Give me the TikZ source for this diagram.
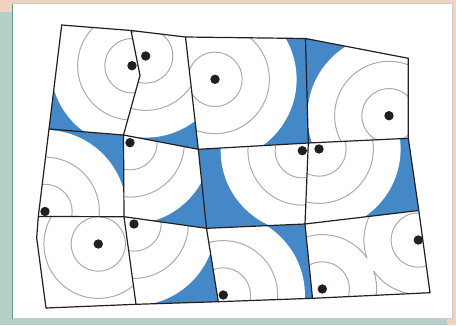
\documentclass[tikz,border=0pt]{standalone}
\usepackage{xcolor}
\definecolor{peach}{RGB}{238,212,192}
\definecolor{sage}{RGB}{181,208,200}
\definecolor{rim}{RGB}{110,150,140}
\definecolor{sea}{RGB}{69,136,199}
\definecolor{ink}{RGB}{35,31,32}

\begin{document}
\begin{tikzpicture}[x=1pt, y=-1pt,
    mesh/.style={line width=1.2pt, ink, line join=miter},
    ring/.style={line width=1pt, black!33},
    pin/.style={fill=ink}]
        \useasboundingbox (0,0) rectangle (456,325);

        % card and background
        \fill[peach] (0,0) rectangle (456,325);
        \fill[sage] (0,12) rectangle (447,325);
        \fill[white, draw=black!20] (12,3.5) rectangle (452,318.5);
        \draw[rim, line width=1.2pt] (12.3,3.5) -- (12.3,318.5);

        % mesh vertices
        \coordinate (A0) at (61.7,25);
        \coordinate (A1) at (131,30.5);
        \coordinate (A2) at (185.5,37);
        \coordinate (A3) at (305.5,38.5);
        \coordinate (A4) at (408.3,58.3);
        \coordinate (K) at (140,75.5);
        \coordinate (B0) at (49,129);
        \coordinate (B1) at (123.5,135);
        \coordinate (B2) at (198.3,149.3);
        \coordinate (B3) at (308.3,143);
        \coordinate (B4) at (408.3,138.3);
        \coordinate (C0) at (38.3,216.5);
        \coordinate (C1) at (124,216.7);
        \coordinate (C2) at (206.5,228.3);
        \coordinate (C3) at (305,224);
        \coordinate (C4) at (418.8,210.5);
        \coordinate (L) at (36.7,238);
        \coordinate (D0) at (46,308);
        \coordinate (D1) at (136,304.3);
        \coordinate (D2) at (218.3,301.7);
        \coordinate (D3) at (312.5,298.3);
        \coordinate (D4) at (430,292.7);

        % sample points
        \coordinate (d11) at (132,65.7);
        \coordinate (d12) at (145.7,56);
        \coordinate (d13) at (215,79.3);
        \coordinate (d14) at (389,115.7);
        \coordinate (d21) at (45,211.5);
        \coordinate (d22) at (130,142.7);
        \coordinate (d23) at (302.3,150.7);
        \coordinate (d24) at (319,149);
        \coordinate (d31) at (98.3,244);
        \coordinate (d32) at (134,224);
        \coordinate (d33) at (223.3,295);
        \coordinate (d34a) at (322.3,289);
        \coordinate (d34b) at (418.3,240);

        % uncovered part
        \fill[sea] (A0) -- (A1) -- (A2) -- (A3) -- (A4) -- (B4) -- (C4) -- (D4) -- (D3) -- (D2) -- (D1) -- (D0) -- (L) -- (C0) -- (B0) -- cycle;

        \begin{scope}
            \clip (A0) -- (A1) -- (K) -- (B1) -- (B0) -- cycle;
            \fill[white] (d11) circle (81.6);
            \draw[ring] (d11) circle (27.2) circle (54.4);
        \end{scope}
        \begin{scope}
            \clip (A1) -- (A2) -- (B2) -- (B1) -- (K) -- cycle;
            \fill[white] (d12) circle (81.6);
            \draw[ring] (d12) circle (27.2) circle (54.4);
        \end{scope}
        \begin{scope}
            \clip (A2) -- (A3) -- (B3) -- (B2) -- cycle;
            \fill[white] (d13) circle (81.6);
            \draw[ring] (d13) circle (27.2) circle (54.4);
        \end{scope}
        \begin{scope}
            \clip (A3) -- (A4) -- (B4) -- (B3) -- cycle;
            \fill[white] (d14) circle (81.6);
            \draw[ring] (d14) circle (27.2) circle (54.4);
        \end{scope}

        \begin{scope}
            \clip (B0) -- (B1) -- (C1) -- (C0) -- cycle;
            \fill[white] (d21) circle (81.6);
            \draw[ring] (d21) circle (27.2) circle (54.4);
        \end{scope}
        \begin{scope}
            \clip (B1) -- (B2) -- (C2) -- (C1) -- cycle;
            \fill[white] (d22) circle (81.6);
            \draw[ring] (d22) circle (27.2) circle (54.4);
        \end{scope}
        \begin{scope}
            \clip (B2) -- (B3) -- (C3) -- (C2) -- cycle;
            \fill[white] (d23) circle (81.6);
            \draw[ring] (d23) circle (27.2) circle (54.4);
        \end{scope}
        \begin{scope}
            \clip (B3) -- (B4) -- (C4) -- (C3) -- cycle;
            \fill[white] (d24) circle (81.6);
            \draw[ring] (d24) circle (27.2) circle (54.4);
        \end{scope}

        \begin{scope}
            \clip (C0) -- (C1) -- (D1) -- (D0) -- (L) -- cycle;
            \fill[white] (d31) circle (81.6);
            \draw[ring] (d31) circle (27.2) circle (54.4);
        \end{scope}
        \begin{scope}
            \clip (C1) -- (C2) -- (D2) -- (D1) -- cycle;
            \fill[white] (d32) circle (81.6);
            \draw[ring] (d32) circle (27.2) circle (54.4);
        \end{scope}
        \begin{scope}
            \clip (C2) -- (C3) -- (D3) -- (D2) -- cycle;
            \fill[white] (d33) circle (81.6);
            \draw[ring] (d33) circle (27.2) circle (54.4);
        \end{scope}
        \begin{scope}
            \clip (C3) -- (C4) -- (D4) -- (D3) -- cycle;
            \fill[white] (d34a) circle (81.6) (d34b) circle (81.6);
            \draw[ring] (d34a) circle (27.2) (d34b) circle (27.2);
            % outer rings merge where the two disks overlap
            \draw[ring] (d34a) ++(340.8:54.4) arc[start angle=340.8, end angle=685.1, radius=54.4];
            \draw[ring] (d34b) ++(160.8:54.4) arc[start angle=160.8, end angle=505.1, radius=54.4];
        \end{scope}

        % cell edges
        \draw[mesh] (A0) -- (A1) -- (A2) -- (A3) -- (A4) -- (B4) -- (C4) -- (D4) -- (D3) -- (D2) -- (D1) -- (D0) -- (L) -- (C0) -- (B0) -- cycle;
        \draw[mesh] (B0) -- (B1) -- (B2) -- (B3) -- (B4);
        \draw[mesh] (C0) -- (C1) -- (C2) -- (C3) -- (C4);
        \draw[mesh] (A1) -- (K) -- (B1) -- (C1) -- (D1);
        \draw[mesh] (A2) -- (B2) -- (C2) -- (D2);
        \draw[mesh] (A3) -- (B3) -- (C3) -- (D3);

        \foreach \p in {d11,d12,d13,d14,d21,d22,d23,d24,d31,d32,d33,d34a,d34b}
            \fill[pin] (\p) circle (4.7);
    \end{tikzpicture}
\end{document}
